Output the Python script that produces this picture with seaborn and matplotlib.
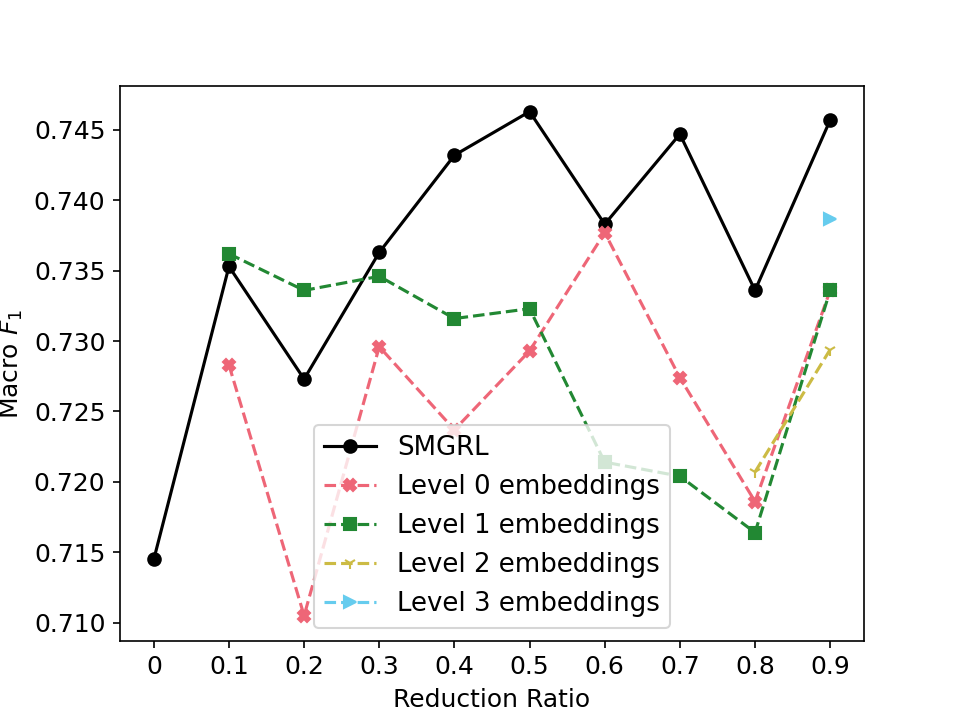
import numpy as np
import pandas as pd
import matplotlib
matplotlib.use("Agg")
import matplotlib.pyplot as plt
import seaborn as sns

# ------------------- data -------------------
ratios = [0, 0.1, 0.2, 0.3, 0.4, 0.5, 0.6, 0.7, 0.8, 0.9]
ratio_labels = ["0", "0.1", "0.2", "0.3", "0.4", "0.5", "0.6", "0.7", "0.8", "0.9"]

smgrl = [0.7145, 0.7353, 0.7273, 0.7363, 0.7432, 0.7463, 0.7383, 0.7447, 0.7336, 0.7457]

level0_x = [0.1, 0.2, 0.3, 0.4, 0.5, 0.6, 0.7, 0.8, 0.9]
level0 = [0.7283, 0.7105, 0.7296, 0.7237, 0.7293, 0.7377, 0.7274, 0.7186, 0.7336]

level1_x = [0.1, 0.2, 0.3, 0.4, 0.5, 0.6, 0.7, 0.8, 0.9]
level1 = [0.7362, 0.7336, 0.7346, 0.7316, 0.7323, 0.7214, 0.7204, 0.7164, 0.7336]

level2_x = [0.8, 0.9]
level2 = [0.7207, 0.7294]

level3_x = [0.9]
level3 = [0.7387]

plt.rcParams["font.size"] = 12

fig, ax = plt.subplots(figsize=(6.4, 4.8), dpi=150)

series = [
    ("SMGRL", ratios, smgrl, "black", "o", "-"),
    ("Level 0 embeddings", level0_x, level0, "#EE6677", "X", "--"),
    ("Level 1 embeddings", level1_x, level1, "#228833", "s", "--"),
    ("Level 2 embeddings", level2_x, level2, "#CCBB44", "1", "--"),
    ("Level 3 embeddings", level3_x, level3, "#66CCEE", ">", "--"),
]

for name, xs, ys, col, mk, ls in series:
    df = pd.DataFrame({"ratio": xs, "f1": ys})
    sns.lineplot(data=df, x="ratio", y="f1", ax=ax, color=col, marker=mk,
                 linestyle=ls, linewidth=1.5, markersize=6,
                 markeredgecolor=col, markeredgewidth=1.0, label=name)

ax.set_xticks(ratios)
ax.set_xticklabels(ratio_labels)
ax.set_xlabel("Reduction Ratio")
ax.set_ylabel("Macro $F_1$")
ax.legend(loc="lower center", fontsize=12.5)

plt.savefig("out.png", dpi=150)
